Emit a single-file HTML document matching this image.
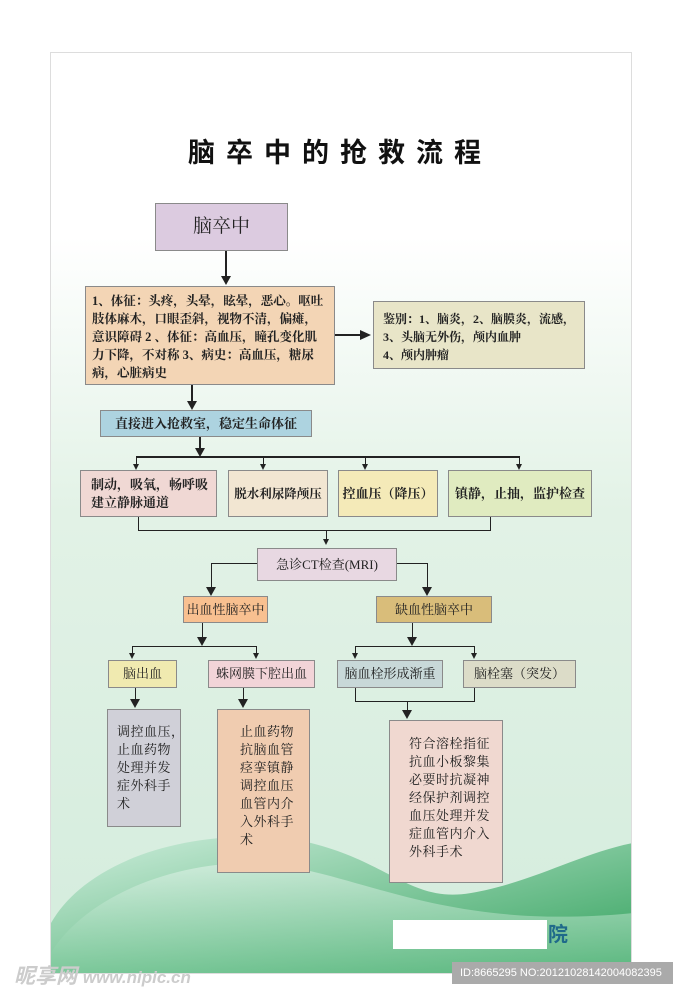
<!DOCTYPE html>
<html><head><meta charset="utf-8"><style>
*{margin:0;padding:0;box-sizing:border-box}
body{width:683px;height:993px;position:relative;background:#fff;overflow:hidden;font-family:"Liberation Serif","Noto Serif CJK SC",serif;color:#222}
#panel{position:absolute;left:50px;top:52px;width:582px;height:922px;border:1px solid #ddd;background:linear-gradient(#fff 0%,#fff 20%,#e2f2e6 50%,#d4ecdd 100%);overflow:hidden}
.b{position:absolute;border:1px solid #8a8a8a;font-size:13px;font-weight:bold;line-height:18px;display:flex;align-items:center;justify-content:center;text-align:center;white-space:nowrap}
.t{justify-content:flex-start;align-items:flex-start;text-align:left}
.l{position:absolute;background:#222}
.a{position:absolute;width:0;height:0;border-left:5px solid transparent;border-right:5px solid transparent;border-top:9px solid #222}
.s{border-left:3px solid transparent;border-right:3px solid transparent;border-top:6px solid #222}
</style></head><body>
<div id="panel">
<svg width="582" height="922" style="position:absolute;left:0;top:0">
<defs><linearGradient id="g" x1="0" y1="0" x2="1" y2="1"><stop offset="0" stop-color="#cfeedd"/><stop offset="1" stop-color="#2fa05a"/></linearGradient>
<linearGradient id="g2" x1="0" y1="0" x2="0" y2="1"><stop offset="0" stop-color="#e8f6ee"/><stop offset="1" stop-color="#78c898"/></linearGradient></defs>
<path d="M0 922 L0 870 C40 800 160 770 260 790 C340 810 360 850 420 840 C480 830 530 800 582 790 L582 922Z" fill="url(#g)"/>
<path d="M0 922 L0 900 C30 850 110 810 200 810 C300 812 380 880 582 860 L582 922Z" fill="url(#g2)" opacity="0.55"/>
</svg>
</div>
<div style="position:absolute;left:188px;top:131px;font-family:'Liberation Sans','Noto Sans CJK SC',sans-serif;font-weight:bold;font-size:27px;letter-spacing:11px;color:#111">脑卒中的抢救流程</div>

<div class="b" style="left:155px;top:203px;width:133px;height:48px;background:#dccbe0;font-size:19px;font-weight:normal">脑卒中</div>
<div class="l" style="left:225px;top:251px;width:2px;height:26px"></div><div class="a" style="left:221px;top:276px"></div>
<div class="b t" style="left:85px;top:286px;width:250px;height:99px;background:#f3d5b5;padding:5px 6px;font-size:12.5px">1、体征：头疼，头晕，眩晕，恶心。呕吐<br>肢体麻木，口眼歪斜，视物不清，偏瘫，<br>意识障碍 2 、体征：高血压，瞳孔变化肌<br>力下降，不对称 3、病史：高血压，糖尿<br>病，心脏病史</div>
<div class="l" style="left:335px;top:334px;width:27px;height:2px"></div><div class="a" style="left:360px;top:330px;border-top:5px solid transparent;border-bottom:5px solid transparent;border-left:11px solid #222;border-right:0"></div>
<div class="b t" style="left:373px;top:301px;width:212px;height:68px;background:#e8e5c8;padding:8px 9px;font-size:12px">鉴别：1、脑炎，2、脑膜炎，流感，<br>3、头脑无外伤，颅内血肿<br>4、颅内肿瘤</div>
<div class="l" style="left:191px;top:385px;width:2px;height:17px"></div><div class="a" style="left:187px;top:401px"></div>
<div class="b" style="left:100px;top:410px;width:212px;height:27px;background:#add3e0">直接进入抢救室，稳定生命体征</div>
<div class="l" style="left:199px;top:437px;width:2px;height:12px"></div><div class="a" style="left:195px;top:448px"></div>
<div class="l" style="left:136px;top:456px;width:384px;height:2px"></div>
<div class="l" style="left:136px;top:456px;width:1px;height:9px"></div><div class="a s" style="left:133px;top:464px"></div>
<div class="l" style="left:263px;top:456px;width:1px;height:9px"></div><div class="a s" style="left:260px;top:464px"></div>
<div class="l" style="left:365px;top:456px;width:1px;height:9px"></div><div class="a s" style="left:362px;top:464px"></div>
<div class="l" style="left:519px;top:456px;width:1px;height:9px"></div><div class="a s" style="left:516px;top:464px"></div>
<div class="b t" style="left:80px;top:470px;width:137px;height:47px;background:#f0d8d4;padding:5px 10px">制动，吸氧，畅呼吸<br>建立静脉通道</div>
<div class="b" style="left:228px;top:470px;width:100px;height:47px;background:#f2e6d2;font-size:12.5px">脱水利尿降颅压</div>
<div class="b" style="left:338px;top:470px;width:100px;height:47px;background:#f4eab8">控血压（降压）</div>
<div class="b" style="left:448px;top:470px;width:144px;height:47px;background:#e0ebc0">镇静，止抽，监护检查</div>
<div class="l" style="left:138px;top:517px;width:1px;height:14px"></div><div class="l" style="left:490px;top:517px;width:1px;height:14px"></div>
<div class="l" style="left:138px;top:530px;width:353px;height:1px"></div>
<div class="l" style="left:326px;top:530px;width:1px;height:10px"></div><div class="a s" style="left:323px;top:539px"></div>
<div class="b" style="left:257px;top:548px;width:140px;height:33px;background:#e8d8e2;font-weight:normal;font-size:13px">急诊CT检查(MRI)</div>
<div class="l" style="left:211px;top:563px;width:46px;height:1px"></div><div class="l" style="left:211px;top:563px;width:1px;height:25px"></div><div class="a" style="left:206px;top:587px"></div>
<div class="l" style="left:397px;top:563px;width:30px;height:1px"></div><div class="l" style="left:427px;top:563px;width:1px;height:25px"></div><div class="a" style="left:422px;top:587px"></div>
<div class="b" style="left:183px;top:596px;width:85px;height:27px;background:#f8c090;font-weight:normal">出血性脑卒中</div>
<div class="b" style="left:376px;top:596px;width:116px;height:27px;background:#d9bd7a;font-weight:normal">缺血性脑卒中</div>
<div class="l" style="left:202px;top:623px;width:1px;height:15px"></div><div class="a" style="left:197px;top:637px"></div>
<div class="l" style="left:132px;top:646px;width:125px;height:1px"></div>
<div class="l" style="left:132px;top:646px;width:1px;height:8px"></div><div class="a s" style="left:129px;top:653px"></div>
<div class="l" style="left:256px;top:646px;width:1px;height:8px"></div><div class="a s" style="left:253px;top:653px"></div>
<div class="l" style="left:412px;top:623px;width:1px;height:15px"></div><div class="a" style="left:407px;top:637px"></div>
<div class="l" style="left:355px;top:646px;width:120px;height:1px"></div>
<div class="l" style="left:355px;top:646px;width:1px;height:8px"></div><div class="a s" style="left:352px;top:653px"></div>
<div class="l" style="left:474px;top:646px;width:1px;height:8px"></div><div class="a s" style="left:471px;top:653px"></div>
<div class="b" style="left:108px;top:660px;width:69px;height:28px;background:#f0eab0;font-weight:normal">脑出血</div>
<div class="b" style="left:208px;top:660px;width:107px;height:28px;background:#f2d4d8;font-weight:normal">蛛网膜下腔出血</div>
<div class="b" style="left:337px;top:660px;width:106px;height:28px;background:#c8d8d8;font-weight:normal">脑血栓形成渐重</div>
<div class="b" style="left:463px;top:660px;width:113px;height:28px;background:#dcdcc8;font-weight:normal">脑栓塞（突发）</div>
<div class="l" style="left:135px;top:688px;width:1px;height:12px"></div><div class="a" style="left:130px;top:699px"></div>
<div class="l" style="left:243px;top:688px;width:1px;height:12px"></div><div class="a" style="left:238px;top:699px"></div>
<div class="l" style="left:355px;top:688px;width:1px;height:13px"></div><div class="l" style="left:474px;top:688px;width:1px;height:13px"></div>
<div class="l" style="left:355px;top:701px;width:120px;height:1px"></div>
<div class="l" style="left:407px;top:701px;width:1px;height:10px"></div><div class="a" style="left:402px;top:710px"></div>
<div class="b t" style="left:107px;top:709px;width:74px;height:118px;background:#d0d0d8;padding:13px 9px;font-weight:normal;letter-spacing:0.5px">调控血压，<br>止血药物<br>处理并发<br>症外科手<br>术</div>
<div class="b t" style="left:217px;top:709px;width:93px;height:164px;background:#f0ccb0;padding:13px 21px 0 22px;font-weight:normal;letter-spacing:0.5px">止血药物<br>抗脑血管<br>痉挛镇静<br>调控血压<br>血管内介<br>入外科手<br>术</div>
<div class="b t" style="left:389px;top:720px;width:114px;height:163px;background:#f0d8d0;padding:14px 18px 0 19px;font-weight:normal;letter-spacing:0.5px">符合溶栓指征<br>抗血小板黎集<br>必要时抗凝神<br>经保护剂调控<br>血压处理并发<br>症血管内介入<br>外科手术</div>
<div style="position:absolute;left:393px;top:920px;width:154px;height:29px;background:#fff"></div>
<div style="position:absolute;left:548px;top:918px;font-size:20px;font-weight:bold;color:#1f6a8a;font-family:'Liberation Sans','Noto Sans CJK SC',sans-serif">院</div>
<div style="position:absolute;left:452px;top:962px;width:221px;height:22px;background:#aaa;color:#fff;font-family:'Liberation Sans',sans-serif;font-size:11px;line-height:22px;padding-left:8px">ID:8665295 NO:20121028142004082395</div>
<div style="position:absolute;left:14px;top:960px;font-size:21px;font-weight:bold;font-style:italic;color:#ccc;font-family:'Liberation Sans','Noto Sans CJK SC',sans-serif">昵享网 <span style="font-size:17px">www.nipic.cn</span></div>
</body></html>
